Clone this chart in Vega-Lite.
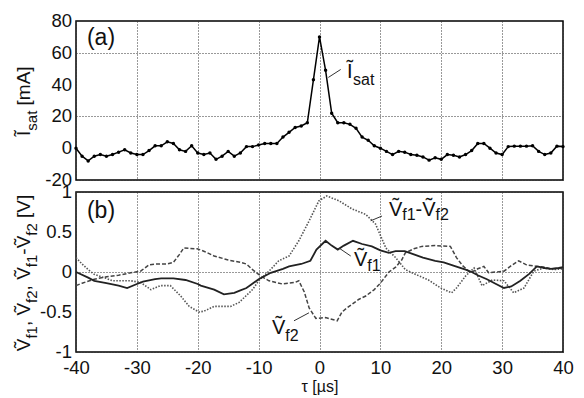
{
  "$schema": "https://vega.github.io/schema/vega-lite/v6.json",
  "background": "white",
  "padding": {"left": 14, "top": 11, "right": 0, "bottom": 0},
  "spacing": 12,
  "bounds": "flush",
  "config": {
    "font": "Liberation Sans",
    "view": {"stroke": "#000", "strokeWidth": 1.5},
    "axis": {
      "labelFont": "Liberation Sans", "labelFontSize": 18.5, "labelColor": "#111",
      "labelOverlap": false, "labelFlush": false,
      "grid": true, "gridColor": "#333", "gridDash": [1, 2], "gridOpacity": 1, "gridWidth": 1,
      "domain": false, "ticks": false, "labelPadding": 4,
      "titleFont": "Liberation Sans", "titleFontWeight": "normal", "titleFontSize": 16, "titleColor": "#111"
    },
    "text": {"font": "Liberation Sans", "color": "#111"}
  },
  "datasets": {
    "isat": [
      {"t": -40, "I": 0}, {"t": -39, "I": -5}, {"t": -38, "I": -8}, {"t": -37, "I": -5}, {"t": -36, "I": -4},
      {"t": -35, "I": -5}, {"t": -34, "I": -4}, {"t": -33, "I": -2.5}, {"t": -32, "I": -1}, {"t": -31, "I": -3},
      {"t": -30, "I": -4}, {"t": -29, "I": -4}, {"t": -28, "I": -1.5}, {"t": -27, "I": 1.5}, {"t": -26, "I": 1.5},
      {"t": -25, "I": 4}, {"t": -24, "I": 3}, {"t": -23, "I": -1}, {"t": -22, "I": -2}, {"t": -21, "I": 1.5},
      {"t": -20, "I": -3}, {"t": -19, "I": -4}, {"t": -18, "I": -3}, {"t": -17, "I": -7}, {"t": -16, "I": -5},
      {"t": -15, "I": -2}, {"t": -14, "I": -5}, {"t": -13, "I": -3}, {"t": -12, "I": 1}, {"t": -11, "I": 1},
      {"t": -10, "I": 2}, {"t": -9, "I": 3}, {"t": -8, "I": 3}, {"t": -7, "I": 3}, {"t": -6, "I": 7},
      {"t": -5, "I": 10}, {"t": -4, "I": 13}, {"t": -3, "I": 14}, {"t": -2, "I": 16}, {"t": -1, "I": 43},
      {"t": 0, "I": 70}, {"t": 1, "I": 49}, {"t": 2, "I": 22}, {"t": 3, "I": 16}, {"t": 4, "I": 16},
      {"t": 5, "I": 15}, {"t": 6, "I": 12.5}, {"t": 7, "I": 7}, {"t": 8, "I": 5}, {"t": 9, "I": 1.5},
      {"t": 10, "I": 0}, {"t": 11, "I": -2}, {"t": 12, "I": -4}, {"t": 13, "I": -2}, {"t": 14, "I": -2.5},
      {"t": 15, "I": -4}, {"t": 16, "I": -4.5}, {"t": 17, "I": -5.5}, {"t": 18, "I": -7.5}, {"t": 19, "I": -6},
      {"t": 20, "I": -7}, {"t": 21, "I": -4}, {"t": 22, "I": -4.5}, {"t": 23, "I": -5.5}, {"t": 24, "I": -4},
      {"t": 25, "I": -1.5}, {"t": 26, "I": 3}, {"t": 27, "I": 3}, {"t": 28, "I": 0}, {"t": 29, "I": -3},
      {"t": 30, "I": -4}, {"t": 31, "I": 1}, {"t": 32, "I": 1.3}, {"t": 33, "I": 1.3}, {"t": 34, "I": 1.3},
      {"t": 35, "I": 1.5}, {"t": 36, "I": -2}, {"t": 37, "I": -4}, {"t": 38, "I": -3}, {"t": 39, "I": 1.3},
      {"t": 40, "I": 1}
    ],
    "f1": [
      {"t": -40, "v": 0.0}, {"t": -38, "v": -0.07}, {"t": -37, "v": -0.11}, {"t": -35, "v": -0.14}, {"t": -33, "v": -0.17},
      {"t": -31.6, "v": -0.2}, {"t": -30, "v": -0.15}, {"t": -29, "v": -0.12}, {"t": -27, "v": -0.09}, {"t": -26, "v": -0.08},
      {"t": -24, "v": -0.08}, {"t": -22, "v": -0.1}, {"t": -20, "v": -0.15}, {"t": -19.5, "v": -0.17}, {"t": -17.3, "v": -0.22},
      {"t": -15.7, "v": -0.28}, {"t": -14, "v": -0.26}, {"t": -13, "v": -0.23}, {"t": -12, "v": -0.2}, {"t": -10, "v": -0.09},
      {"t": -8, "v": -0.01}, {"t": -6, "v": 0.04}, {"t": -5, "v": 0.07}, {"t": -3, "v": 0.1}, {"t": -1.5, "v": 0.14},
      {"t": -0.5, "v": 0.28}, {"t": 1, "v": 0.39}, {"t": 2, "v": 0.33}, {"t": 3, "v": 0.28}, {"t": 4, "v": 0.33},
      {"t": 5.5, "v": 0.39}, {"t": 7, "v": 0.35}, {"t": 8.6, "v": 0.32}, {"t": 10, "v": 0.27}, {"t": 11.4, "v": 0.24},
      {"t": 12.5, "v": 0.26}, {"t": 14, "v": 0.26}, {"t": 15.5, "v": 0.22}, {"t": 17, "v": 0.18}, {"t": 19, "v": 0.14},
      {"t": 20.4, "v": 0.12}, {"t": 22, "v": 0.08}, {"t": 24, "v": 0.03}, {"t": 25, "v": 0.0}, {"t": 26, "v": -0.04},
      {"t": 27.5, "v": -0.09}, {"t": 29, "v": -0.15}, {"t": 30.3, "v": -0.2}, {"t": 31.5, "v": -0.18}, {"t": 33, "v": -0.11},
      {"t": 34.5, "v": -0.02}, {"t": 35.7, "v": 0.07}, {"t": 37, "v": 0.05}, {"t": 38, "v": 0.04}, {"t": 39.3, "v": 0.05},
      {"t": 40, "v": 0.06}
    ],
    "f2": [
      {"t": -40, "v": -0.17}, {"t": -39, "v": -0.14}, {"t": -37, "v": -0.09}, {"t": -35, "v": -0.06}, {"t": -33, "v": -0.04},
      {"t": -31, "v": -0.01}, {"t": -29.4, "v": 0.01}, {"t": -28, "v": 0.09}, {"t": -27, "v": 0.1}, {"t": -25, "v": 0.1},
      {"t": -24, "v": 0.12}, {"t": -23, "v": 0.22}, {"t": -22.3, "v": 0.3}, {"t": -20.1, "v": 0.29}, {"t": -19, "v": 0.26},
      {"t": -17.3, "v": 0.2}, {"t": -15, "v": 0.15}, {"t": -13, "v": 0.12}, {"t": -12, "v": 0.1}, {"t": -11, "v": 0.03},
      {"t": -10, "v": -0.03}, {"t": -9, "v": -0.08}, {"t": -8.3, "v": -0.11}, {"t": -6.1, "v": -0.15}, {"t": -4, "v": -0.13},
      {"t": -3.4, "v": -0.11}, {"t": -2.5, "v": -0.25}, {"t": -1.7, "v": -0.45}, {"t": -0.6, "v": -0.58}, {"t": 1, "v": -0.57},
      {"t": 2.9, "v": -0.61}, {"t": 3.7, "v": -0.5}, {"t": 4.5, "v": -0.45}, {"t": 6.5, "v": -0.34}, {"t": 7.6, "v": -0.3},
      {"t": 9, "v": -0.22}, {"t": 10, "v": -0.14}, {"t": 11.4, "v": 0.0}, {"t": 12.5, "v": 0.06}, {"t": 13.5, "v": 0.15},
      {"t": 14.1, "v": 0.24}, {"t": 15.5, "v": 0.29}, {"t": 16.8, "v": 0.32}, {"t": 19, "v": 0.33}, {"t": 21.5, "v": 0.32},
      {"t": 22.5, "v": 0.18}, {"t": 23.5, "v": 0.08}, {"t": 24.8, "v": -0.01}, {"t": 26, "v": 0.04}, {"t": 27, "v": 0.07},
      {"t": 27.8, "v": -0.01}, {"t": 29, "v": 0.0}, {"t": 30.3, "v": 0.01}, {"t": 31.5, "v": 0.08}, {"t": 32.7, "v": 0.14},
      {"t": 34, "v": 0.09}, {"t": 35.7, "v": 0.07}, {"t": 37, "v": 0.06}, {"t": 38, "v": 0.04}, {"t": 40, "v": 0.05}
    ],
    "diff": [
      {"t": -40, "v": 0.18}, {"t": -39, "v": 0.1}, {"t": -38, "v": 0.03}, {"t": -37, "v": -0.03}, {"t": -35, "v": -0.08},
      {"t": -34, "v": -0.11}, {"t": -31, "v": -0.11}, {"t": -29.4, "v": -0.13}, {"t": -27.7, "v": -0.22}, {"t": -26.1, "v": -0.17},
      {"t": -24.5, "v": -0.17}, {"t": -22.8, "v": -0.3}, {"t": -21.4, "v": -0.43}, {"t": -19.8, "v": -0.5}, {"t": -19, "v": -0.49},
      {"t": -17.3, "v": -0.43}, {"t": -14.6, "v": -0.43}, {"t": -13.2, "v": -0.38}, {"t": -12.1, "v": -0.3}, {"t": -11, "v": -0.22},
      {"t": -10, "v": -0.11}, {"t": -8.3, "v": 0.01}, {"t": -6.7, "v": 0.14}, {"t": -5, "v": 0.2}, {"t": -3.4, "v": 0.39},
      {"t": -1.7, "v": 0.64}, {"t": -0.1, "v": 0.89}, {"t": 1.2, "v": 0.95}, {"t": 3.2, "v": 0.89}, {"t": 5.3, "v": 0.79},
      {"t": 7.6, "v": 0.72}, {"t": 9.2, "v": 0.6}, {"t": 10.9, "v": 0.3}, {"t": 12.5, "v": 0.18}, {"t": 14.1, "v": 0.03},
      {"t": 15.5, "v": -0.02}, {"t": 17.9, "v": -0.1}, {"t": 19.9, "v": -0.2}, {"t": 21.7, "v": -0.26}, {"t": 22.5, "v": -0.2},
      {"t": 24, "v": -0.05}, {"t": 25.4, "v": 0.05}, {"t": 26.7, "v": -0.17}, {"t": 28.4, "v": -0.1}, {"t": 30.3, "v": -0.11},
      {"t": 31.9, "v": -0.26}, {"t": 33.6, "v": -0.2}, {"t": 35.2, "v": 0.01}, {"t": 36.8, "v": 0.05}, {"t": 38.5, "v": 0.03},
      {"t": 40, "v": 0.04}
    ],
    "a_ticks": [
      {"t": -40, "v": 80, "text": "80"}, {"t": -40, "v": 60, "text": "60"}, {"t": -40, "v": 40, "text": "40"},
      {"t": -40, "v": 20, "text": "20"}, {"t": -40, "v": 0, "text": "0"}, {"t": -40, "v": -20, "text": "-20"}
    ],
    "b_ticks": [
      {"t": -40, "v": 1, "text": "1"}, {"t": -40, "v": 0.5, "text": "0.5"}, {"t": -40, "v": 0, "text": "0"},
      {"t": -40, "v": -0.5, "text": "-0.5"}, {"t": -40, "v": -1, "text": "-1"}
    ],
    "a_main": [{"t": 4.52, "v": 44.0, "text": "Ĩ"}],
    "a_sub": [{"t": 5.5, "v": 39.6, "text": "sat"}],
    "a_panel": [{"t": -38.2, "v": 64.8, "text": "(a)"}],
    "a_leader": [{"t": 1.45, "v": 44.5, "t2": 3.48, "v2": 49.5}],
    "a_title_main": [{"t": -47.56, "v": 7.67, "text": "Ĩ"}, {"t": -47.56, "v": 26.9, "text": "[mA]"}],
    "a_title_sub": [{"t": -46.41, "v": 11.0, "text": "sat"}],
    "b_main": [
      {"t": 11.42, "v": 0.70, "text": "Ṽ"}, {"t": 15.79, "v": 0.70, "text": "-"}, {"t": 16.89, "v": 0.70, "text": "Ṽ"},
      {"t": 5.67, "v": 0.075, "text": "Ṽ"},
      {"t": -7.8, "v": -0.775, "text": "Ṽ"}
    ],
    "b_sub": [
      {"t": 13.6, "v": 0.65, "text": "f1"}, {"t": 19.07, "v": 0.65, "text": "f2"},
      {"t": 7.85, "v": 0.0125, "text": "f1"},
      {"t": -5.62, "v": -0.8625, "text": "f2"}
    ],
    "b_panel": [{"t": -38.2, "v": 0.675, "text": "(b)"}],
    "b_leader": [
      {"t": 8.41, "v": 0.64, "t2": 10.27, "v2": 0.7},
      {"t": 3.2, "v": 0.30, "t2": 5.13, "v2": 0.2},
      {"t": -4.19, "v": -0.61, "t2": -1.73, "v2": -0.51}
    ],
    "b_title_main": [
      {"t": -47.56, "v": -0.991, "text": "Ṽ"}, {"t": -47.56, "v": -0.676, "text": ","},
      {"t": -47.56, "v": -0.545, "text": "Ṽ"}, {"t": -47.56, "v": -0.23, "text": ","},
      {"t": -47.56, "v": -0.0975, "text": "Ṽ"}, {"t": -47.56, "v": 0.216, "text": "-"},
      {"t": -47.56, "v": 0.296, "text": "Ṽ"}, {"t": -47.56, "v": 0.676, "text": "[V]"}
    ],
    "b_title_sub": [
      {"t": -46.41, "v": -0.8325, "text": "f1"}, {"t": -46.41, "v": -0.386, "text": "f2"},
      {"t": -46.41, "v": 0.06, "text": "f1"}, {"t": -46.41, "v": 0.454, "text": "f2"}
    ]
  },
  "vconcat": [
    {
      "width": 487,
      "height": 159,
      "layer": [
        {
          "data": {"name": "isat"},
          "mark": {"type": "line", "color": "#000", "strokeWidth": 1.5, "point": {"filled": true, "size": 12, "color": "#000"}},
          "encoding": {
            "x": {"field": "t", "type": "quantitative", "scale": {"domain": [-40, 40], "nice": false},
                  "axis": {"labels": false, "title": null, "values": [-40, -30, -20, -10, 0, 10, 20, 30, 40]}},
            "y": {"field": "I", "type": "quantitative", "scale": {"domain": [-20, 80], "nice": false},
                  "axis": {"title": null, "values": [-20, 0, 20, 40, 60, 80], "labels": false}}
          }
        },
        {
          "data": {"name": "a_ticks"},
          "mark": {"type": "text", "fontSize": 18.5, "align": "right", "baseline": "middle", "dx": -4},
          "encoding": {
            "x": {"field": "t", "type": "quantitative", "scale": {"domain": [-40, 40], "nice": false}},
            "y": {"field": "v", "type": "quantitative", "scale": {"domain": [-20, 80], "nice": false}},
            "text": {"field": "text"}
          }
        },
        {
          "data": {"name": "a_leader"},
          "mark": {"type": "rule", "color": "#333", "strokeWidth": 1},
          "encoding": {
            "x": {"field": "t", "type": "quantitative", "scale": {"domain": [-40, 40], "nice": false}},
            "y": {"field": "v", "type": "quantitative", "scale": {"domain": [-20, 80], "nice": false}},
            "x2": {"field": "t2"}, "y2": {"field": "v2"}
          }
        },
        {
          "data": {"name": "a_panel"},
          "mark": {"type": "text", "fontSize": 23, "align": "left", "baseline": "alphabetic"},
          "encoding": {
            "x": {"field": "t", "type": "quantitative", "scale": {"domain": [-40, 40], "nice": false}},
            "y": {"field": "v", "type": "quantitative", "scale": {"domain": [-20, 80], "nice": false}},
            "text": {"field": "text"}
          }
        },
        {
          "data": {"name": "a_main"},
          "mark": {"type": "text", "fontSize": 20, "align": "left", "baseline": "alphabetic"},
          "encoding": {
            "x": {"field": "t", "type": "quantitative", "scale": {"domain": [-40, 40], "nice": false}},
            "y": {"field": "v", "type": "quantitative", "scale": {"domain": [-20, 80], "nice": false}},
            "text": {"field": "text"}
          }
        },
        {
          "data": {"name": "a_sub"},
          "mark": {"type": "text", "fontSize": 16, "align": "left", "baseline": "alphabetic"},
          "encoding": {
            "x": {"field": "t", "type": "quantitative", "scale": {"domain": [-40, 40], "nice": false}},
            "y": {"field": "v", "type": "quantitative", "scale": {"domain": [-20, 80], "nice": false}},
            "text": {"field": "text"}
          }
        },
        {
          "data": {"name": "a_title_main"},
          "mark": {"type": "text", "fontSize": 19, "align": "left", "baseline": "alphabetic", "angle": 270},
          "encoding": {
            "x": {"field": "t", "type": "quantitative", "scale": {"domain": [-40, 40], "nice": false}},
            "y": {"field": "v", "type": "quantitative", "scale": {"domain": [-20, 80], "nice": false}},
            "text": {"field": "text"}
          }
        },
        {
          "data": {"name": "a_title_sub"},
          "mark": {"type": "text", "fontSize": 15, "align": "left", "baseline": "alphabetic", "angle": 270},
          "encoding": {
            "x": {"field": "t", "type": "quantitative", "scale": {"domain": [-40, 40], "nice": false}},
            "y": {"field": "v", "type": "quantitative", "scale": {"domain": [-20, 80], "nice": false}},
            "text": {"field": "text"}
          }
        }
      ]
    },
    {
      "width": 487,
      "height": 160,
      "layer": [
        {
          "data": {"name": "diff"},
          "mark": {"type": "line", "color": "#555", "strokeWidth": 1.6, "strokeDash": [1.5, 1.5]},
          "encoding": {
            "x": {"field": "t", "type": "quantitative", "scale": {"domain": [-40, 40], "nice": false},
                  "axis": {"title": "τ [µs]", "values": [-40, -30, -20, -10, 0, 10, 20, 30, 40], "labelExpr": "datum.value + ''", "labelPadding": 6, "titlePadding": 2, "labelOverlap": false, "labelFlush": false}},
            "y": {"field": "v", "type": "quantitative", "scale": {"domain": [-1, 1], "nice": false},
                  "axis": {"title": null, "values": [-1, -0.5, 0, 0.5, 1], "labels": false}}
          }
        },
        {
          "data": {"name": "b_ticks"},
          "mark": {"type": "text", "fontSize": 18.5, "align": "right", "baseline": "middle", "dx": -4},
          "encoding": {
            "x": {"field": "t", "type": "quantitative", "scale": {"domain": [-40, 40], "nice": false}},
            "y": {"field": "v", "type": "quantitative", "scale": {"domain": [-1, 1], "nice": false}},
            "text": {"field": "text"}
          }
        },
        {
          "data": {"name": "f2"},
          "mark": {"type": "line", "color": "#444", "strokeWidth": 1.5, "strokeDash": [4, 2]},
          "encoding": {
            "x": {"field": "t", "type": "quantitative", "scale": {"domain": [-40, 40], "nice": false}},
            "y": {"field": "v", "type": "quantitative", "scale": {"domain": [-1, 1], "nice": false}}
          }
        },
        {
          "data": {"name": "f1"},
          "mark": {"type": "line", "color": "#222", "strokeWidth": 1.8},
          "encoding": {
            "x": {"field": "t", "type": "quantitative", "scale": {"domain": [-40, 40], "nice": false}},
            "y": {"field": "v", "type": "quantitative", "scale": {"domain": [-1, 1], "nice": false}}
          }
        },
        {
          "data": {"name": "b_leader"},
          "mark": {"type": "rule", "color": "#333", "strokeWidth": 1},
          "encoding": {
            "x": {"field": "t", "type": "quantitative", "scale": {"domain": [-40, 40], "nice": false}},
            "y": {"field": "v", "type": "quantitative", "scale": {"domain": [-1, 1], "nice": false}},
            "x2": {"field": "t2"}, "y2": {"field": "v2"}
          }
        },
        {
          "data": {"name": "b_panel"},
          "mark": {"type": "text", "fontSize": 23, "align": "left", "baseline": "alphabetic"},
          "encoding": {
            "x": {"field": "t", "type": "quantitative", "scale": {"domain": [-40, 40], "nice": false}},
            "y": {"field": "v", "type": "quantitative", "scale": {"domain": [-1, 1], "nice": false}},
            "text": {"field": "text"}
          }
        },
        {
          "data": {"name": "b_main"},
          "mark": {"type": "text", "fontSize": 20, "align": "left", "baseline": "alphabetic"},
          "encoding": {
            "x": {"field": "t", "type": "quantitative", "scale": {"domain": [-40, 40], "nice": false}},
            "y": {"field": "v", "type": "quantitative", "scale": {"domain": [-1, 1], "nice": false}},
            "text": {"field": "text"}
          }
        },
        {
          "data": {"name": "b_sub"},
          "mark": {"type": "text", "fontSize": 16, "align": "left", "baseline": "alphabetic"},
          "encoding": {
            "x": {"field": "t", "type": "quantitative", "scale": {"domain": [-40, 40], "nice": false}},
            "y": {"field": "v", "type": "quantitative", "scale": {"domain": [-1, 1], "nice": false}},
            "text": {"field": "text"}
          }
        },
        {
          "data": {"name": "b_title_main"},
          "mark": {"type": "text", "fontSize": 19, "align": "left", "baseline": "alphabetic", "angle": 270},
          "encoding": {
            "x": {"field": "t", "type": "quantitative", "scale": {"domain": [-40, 40], "nice": false}},
            "y": {"field": "v", "type": "quantitative", "scale": {"domain": [-1, 1], "nice": false}},
            "text": {"field": "text"}
          }
        },
        {
          "data": {"name": "b_title_sub"},
          "mark": {"type": "text", "fontSize": 15, "align": "left", "baseline": "alphabetic", "angle": 270},
          "encoding": {
            "x": {"field": "t", "type": "quantitative", "scale": {"domain": [-40, 40], "nice": false}},
            "y": {"field": "v", "type": "quantitative", "scale": {"domain": [-1, 1], "nice": false}},
            "text": {"field": "text"}
          }
        }
      ]
    }
  ]
}
